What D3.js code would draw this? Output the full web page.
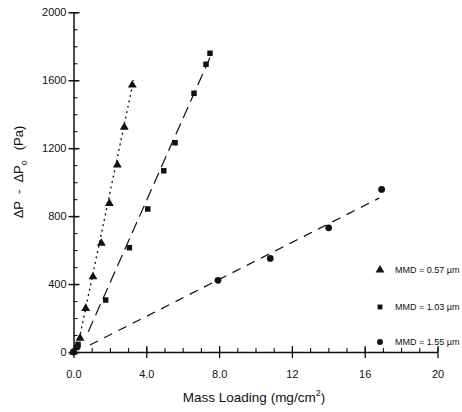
<!DOCTYPE html>
<html><head><meta charset="utf-8">
<script src="https://cdn.jsdelivr.net/npm/d3@7"></script>
<style>
html,body{margin:0;padding:0;background:#fff;}
text{font-family:"Liberation Sans",Arial,Helvetica,sans-serif;fill:#111;}
</style></head>
<body>
<svg id="chart" width="462" height="412"></svg>
<script>
// ---- data ----
const xTicks = [0, 4, 8, 12, 16, 20];
const xTickLabels = ["0.0", "4.0", "8.0", "12", "16", "20"];
const yTicks = [0, 400, 800, 1200, 1600, 2000];
const xMinorTicks = d3.range(0, 21, 1);
const yMinorTicks = d3.range(0, 2001, 100);

const seriesNames = ["MMD = 0.57 \u00b5m", "MMD = 1.03 \u00b5m", "MMD = 1.55 \u00b5m"];

// MMD 0.57 (triangles)
const triX = [0, 0.36, 0.67, 1.07, 1.53, 1.97, 2.41, 2.79, 3.23];
const triY = [0, 82, 257, 443, 640, 875, 1101, 1323, 1572];
// MMD 1.03 (squares)
const sqX = [0, 0.25, 1.77, 3.07, 4.08, 4.96, 5.58, 6.62, 7.28, 7.50];
const sqY = [0, 45, 306, 614, 842, 1067, 1232, 1523, 1694, 1759];
// MMD 1.55 (circles)
const cirX = [0, 0.2, 7.94, 10.81, 14.02, 16.93];
const cirY = [0, 30, 422, 551, 731, 957];

// fitted lines drawn in the figure: [start, end] as [x, y]
const triLine = [[0.19, 12], [3.3, 1600]];
const sqLine = [[0.81, 119], [7.55, 1746]];
const cirLine = [[0.9, 41], [16.79, 906]];

// ---- drawing ----
const svg = d3.select("#chart");
const x = d3.scaleLinear().domain([0, 20]).range([73.5, 437.5]);
const y = d3.scaleLinear().domain([0, 2000]).range([352, 12.3]);

const ink = "#111";

// minor ticks
svg.append("g").attr("transform", `translate(${x(0)},0)`)
  .call(d3.axisRight(y).tickValues(yMinorTicks).tickSize(4).tickFormat(""))
  .call(g => g.select(".domain").remove())
  .call(g => g.selectAll("line").attr("stroke", ink).attr("stroke-width", 1.1));
svg.append("g").attr("transform", `translate(0,${y(0)})`)
  .call(d3.axisTop(x).tickValues(xMinorTicks).tickSize(4).tickFormat(""))
  .call(g => g.select(".domain").remove())
  .call(g => g.selectAll("line").attr("stroke", ink).attr("stroke-width", 1.1));

// major y axis
svg.append("g").attr("transform", `translate(${x(0)},0)`)
  .call(d3.axisLeft(y).tickValues(yTicks).tickSizeInner(5).tickSizeOuter(0).tickPadding(2).tickFormat(d3.format("d")))
  .call(g => g.select(".domain").attr("stroke", ink).attr("stroke-width", 1.5))
  .call(g => g.selectAll(".tick line").attr("x1", 6).attr("stroke", ink).attr("stroke-width", 1.5))
  .call(g => g.selectAll(".tick text").attr("font-size", 11).attr("fill", ink)
    .style("font-family", "'Liberation Sans',Arial,sans-serif"));

// major x axis
svg.append("g").attr("transform", `translate(0,${y(0)})`)
  .call(d3.axisBottom(x).tickValues(xTicks).tickSizeInner(6).tickSizeOuter(0).tickPadding(12)
    .tickFormat((d, i) => xTickLabels[i]))
  .call(g => g.select(".domain").attr("stroke", ink).attr("stroke-width", 1.5))
  .call(g => g.selectAll(".tick line").attr("y1", -6).attr("stroke", ink).attr("stroke-width", 1.3))
  .call(g => g.selectAll(".tick text").attr("font-size", 11).attr("fill", ink)
    .style("font-family", "'Liberation Sans',Arial,sans-serif"));

// fitted lines
const lineGen = d3.line().x(d => x(d[0])).y(d => y(d[1]));
svg.append("path").datum(triLine).attr("d", lineGen)
  .attr("stroke", ink).attr("stroke-width", 1.3).attr("fill", "none").attr("stroke-dasharray", "2,3.5");
svg.append("path").datum(sqLine).attr("d", lineGen)
  .attr("stroke", ink).attr("stroke-width", 1.2).attr("fill", "none").attr("stroke-dasharray", "12,6");
svg.append("path").datum(cirLine).attr("d", lineGen)
  .attr("stroke", ink).attr("stroke-width", 1.3).attr("fill", "none").attr("stroke-dasharray", "9,7");

const triSym = d3.symbol().type(d3.symbolTriangle).size(34);
const sqSym = d3.symbol().type(d3.symbolSquare).size(30);
const cirSym = d3.symbol().type(d3.symbolCircle).size(36);

svg.append("g").selectAll("path").data(triX).join("path")
  .attr("d", triSym).attr("fill", ink)
  .attr("transform", (d, i) => `translate(${x(d)},${y(triY[i])})`);
svg.append("g").selectAll("path").data(sqX).join("path")
  .attr("d", sqSym).attr("fill", ink)
  .attr("transform", (d, i) => `translate(${x(d)},${y(sqY[i])})`);
svg.append("g").selectAll("path").data(cirX).join("path")
  .attr("d", cirSym).attr("fill", ink)
  .attr("transform", (d, i) => `translate(${x(d)},${y(cirY[i])})`);

// legend
const legendSyms = [triSym, sqSym.size(24), cirSym.size(28)];
const legendY = [270, 307, 342];
const lg = svg.append("g");
seriesNames.forEach((name, i) => {
  lg.append("path").attr("d", legendSyms[i]).attr("fill", ink)
    .attr("transform", `translate(380,${legendY[i]})`);
  lg.append("text").attr("x", 395).attr("y", legendY[i] + 3.2)
    .attr("font-size", 9).text(name);
});

// axis titles
const xt = svg.append("text").attr("x", 254).attr("y", 402)
  .attr("text-anchor", "middle").attr("font-size", 13.5);
xt.append("tspan").text("Mass Loading (mg/cm");
xt.append("tspan").attr("font-size", 9).attr("dy", -6).text("2");
xt.append("tspan").attr("dy", 6).text(")");

const yt = svg.append("text").attr("transform", "translate(23,172) rotate(-90)")
  .attr("text-anchor", "middle").attr("font-size", 13);
yt.append("tspan").text("\u0394P");
yt.append("tspan").attr("dx", 7).text("-");
yt.append("tspan").attr("dx", 7).text("\u0394P");
yt.append("tspan").attr("font-size", 9).attr("dy", 4).text("o");
yt.append("tspan").attr("dx", 10).attr("dy", -4).text("(Pa)");
</script>
</body></html>
